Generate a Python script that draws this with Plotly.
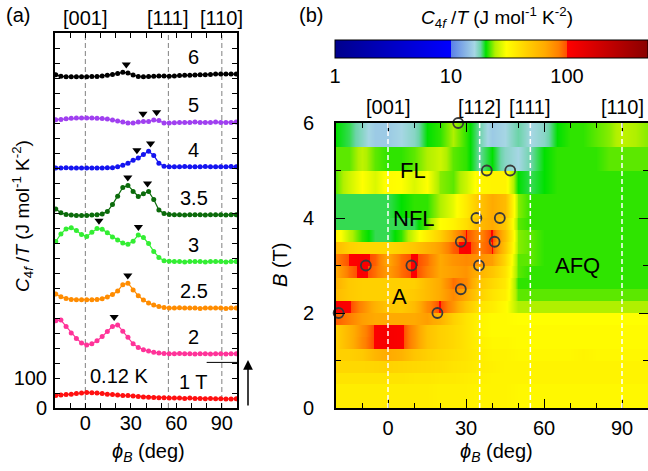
import numpy as np
import plotly.graph_objects as go

W, H = 648, 471
FONT = "Liberation Sans, Arial, sans-serif"

# ---------------- panel (a): C4f/T vs phi_B at several fields ----------------
phi_a = [-19.5, -16.1, -12.7, -9.3, -5.9, -2.5, 0.9, 4.3, 7.7, 11.1, 14.5, 17.9,
         21.3, 24.7, 28.1, 31.5, 34.9, 38.3, 41.7, 45.1, 48.5, 51.9, 55.3, 58.7,
         62.1, 65.5, 68.9, 72.3, 75.7, 79.1, 82.5, 85.9, 89.3, 92.7, 96.1, 99.5]

field_labels = ["1 T", "2", "2.5", "3", "3.5", "4", "5", "6"]
field_B = [1, 2, 2.5, 3, 3.5, 4, 5, 6]
offsets_a = [0, 150, 300, 450, 600, 750, 900, 1050]
colors_a = ["#ff1010", "#ff3399", "#ff8c00", "#33ee33", "#0b6b0b", "#1414f0", "#a040f0", "#000000"]

ct_1T = [42, 43, 45, 46, 48, 50, 52, 51, 50, 48, 46, 45, 43, 42, 42, 40, 38, 37,
         36, 35, 34, 34, 33, 33, 33, 32, 33, 32, 32, 31, 32, 31, 31, 30, 30, 31]
ct_2T = [141, 143, 122, 100, 82, 67, 60, 64, 74, 88, 105, 122, 127, 106, 86, 64, 52, 44,
         40, 36, 33, 32, 31, 31, 32, 31, 31, 30, 31, 31, 30, 31, 31, 30, 31, 31]
ct_25T = [80, 71, 65, 62, 61, 61, 61, 61, 62, 64, 70, 78, 90, 111, 116, 93, 74, 60,
          50, 43, 38, 35, 33, 33, 34, 33, 33, 33, 32, 33, 33, 33, 33, 32, 33, 33]
ct_3T = [105, 130, 147, 151, 142, 128, 122, 136, 148, 146, 134, 120, 110, 100, 96, 106, 127, 118,
         98, 72, 52, 41, 39, 38, 38, 37, 38, 38, 38, 37, 38, 38, 38, 37, 38, 38]
ct_35T = [63, 51, 45, 43, 42, 42, 42, 43, 44, 47, 55, 78, 106, 135, 142, 122, 105, 114,
          122, 95, 60, 48, 45, 44, 44, 43, 44, 44, 44, 43, 44, 44, 44, 43, 44, 44]
ct_4T = [50, 50, 51, 50, 50, 50, 50, 50, 50, 50, 51, 51, 54, 59, 66, 76, 83, 95,
         106, 92, 66, 56, 54, 54, 54, 55, 54, 54, 54, 55, 54, 54, 54, 54, 55, 54]
ct_5T = [61, 62, 64, 66, 67, 67, 67, 67, 66, 65, 63, 60, 57, 53, 50, 50, 53, 55,
         55, 60, 58, 50, 50, 51, 52, 52, 52, 53, 52, 52, 52, 53, 52, 52, 52, 53]
ct_6T = [61, 56, 54, 54, 54, 54, 54, 55, 55, 57, 59, 62, 65, 69, 67, 60, 55, 54,
         55, 56, 57, 57, 56, 57, 58, 59, 59, 60, 61, 61, 62, 63, 63, 63, 63, 63]
curves_a = [ct_1T, ct_2T, ct_25T, ct_3T, ct_35T, ct_4T, ct_5T, ct_6T]

# peak positions (phi, B) ; marked with triangles in (a) when flag is 1
peak_B = [6, 5, 5, 4, 4, 3.5, 3.5, 3, 3, 3, 2.5, 2, 2]
peak_phi = [27, 38, 47, 34, 43, 28, 41, -8.5, 9, 35, 28, -19, 19]
peak_in_a = [1, 1, 1, 1, 1, 1, 1, 0, 1, 1, 1, 0, 1]

# ---------------- panel (b): contour map of C4f/T ----------------
phi_h = [-20, -15, -10, -5, 0, 5, 10, 15, 20, 25, 30, 35, 40, 45, 50, 55, 60, 65, 70, 75, 80, 85, 90, 95, 100]
B_edges = [0, 0.5, 0.75, 1.0, 1.25, 1.5, 1.75, 2.0, 2.25, 2.5, 2.75, 3.0, 3.25, 3.5, 3.75, 4.0, 4.5, 5.0, 5.5, 6.0]
heat_rows = [
    [35, 35, 35, 35, 35, 35, 35, 35, 34, 34, 34, 33, 33, 33, 32, 32, 32, 32, 32, 32, 32, 32, 32, 32, 32],
    [38, 38, 38, 38, 38, 38, 37, 37, 36, 36, 35, 34, 33, 33, 33, 33, 33, 33, 33, 33, 33, 33, 33, 33, 33],
    [42, 42, 42, 43, 44, 43, 42, 41, 40, 38, 37, 35, 34, 33, 33, 33, 33, 33, 33, 33, 33, 33, 33, 33, 33],
    [45, 45, 48, 58, 65, 60, 50, 45, 42, 40, 38, 35, 33, 33, 32, 32, 32, 32, 32, 33, 32, 32, 32, 32, 32],
    [45, 58, 80, 104, 112, 106, 76, 52, 45, 42, 38, 34, 32, 32, 31, 31, 31, 31, 31, 31, 31, 31, 31, 31, 31],
    [45, 58, 78, 104, 112, 106, 76, 52, 45, 42, 38, 33, 31, 31, 31, 31, 31, 31, 31, 31, 31, 31, 31, 31, 31],
    [95, 85, 70, 65, 65, 65, 65, 70, 60, 45, 38, 33, 31, 31, 30, 30, 30, 30, 30, 30, 30, 30, 30, 30, 30],
    [112, 104, 80, 60, 50, 48, 55, 80, 102, 75, 50, 38, 35, 31, 24, 24, 24, 24, 24, 24, 24, 24, 24, 24, 24],
    [55, 48, 45, 45, 45, 45, 48, 55, 65, 80, 65, 45, 38, 34, 22, 22, 22, 22, 22, 22, 22, 22, 22, 22, 22],
    [60, 48, 45, 45, 45, 45, 45, 55, 65, 90, 80, 50, 42, 36, 21, 21, 21, 21, 21, 21, 21, 21, 21, 21, 21],
    [65, 90, 108, 90, 70, 90, 104, 85, 65, 70, 75, 60, 50, 38, 22, 21, 21, 21, 21, 21, 21, 21, 21, 21, 21],
    [85, 100, 108, 95, 65, 90, 104, 90, 65, 75, 80, 75, 70, 42, 22, 22, 21, 21, 21, 21, 21, 21, 21, 21, 21],
    [55, 45, 42, 42, 42, 45, 50, 60, 70, 95, 108, 85, 100, 50, 23, 22, 21, 21, 21, 21, 21, 21, 21, 21, 21],
    [33, 25, 21, 19, 19, 21, 27, 35, 45, 70, 100, 80, 104, 55, 23, 22, 21, 21, 21, 21, 21, 21, 21, 21, 21],
    [19, 19, 19, 19, 19, 19, 19, 22, 30, 33, 40, 55, 65, 48, 22, 21, 21, 21, 21, 21, 21, 21, 21, 21, 21],
    [19, 19, 19, 19, 19, 20, 21, 21, 24, 28, 36, 50, 65, 55, 23, 21, 21, 21, 21, 21, 21, 21, 21, 21, 21],
    [22, 26, 30, 27, 31, 30, 27, 30, 23, 22, 26, 32, 33, 33, 20, 19, 20, 21, 21, 21, 21, 21, 21, 21, 21],
    [22, 22, 25, 22, 21, 21, 22, 24, 26, 22, 21, 18, 20, 17, 16, 18, 20, 21, 21, 21, 21, 22, 22, 22, 22],
    [20, 19, 17, 15, 15, 16, 17, 20, 21, 24, 21, 18, 15, 16, 18, 16, 17, 20, 21, 21, 22, 23, 25, 24, 23],
]

cb_tick_vals = [1, 10, 100]
cb_min, cb_max = 1, 500

dir_a = [("[001]", 0), ("[111]", 54.74), ("[110]", 90)]
dir_b = [("[001]", 0), ("[112]", 35.26), ("[111]", 54.74), ("[110]", 90)]
phase_labels = [("FL", 9.5, 5.0), ("NFL", 10, 4.0), ("A", 4.6, 2.35), ("AFQ", 73, 3.0)]

# ---------------- colour scale (log10 of C/T) ----------------
L = np.log10(cb_max)
def pos(v):
    return float(np.log10(v) / L)
colorscale = [
    [0.0, "#00008c"], [pos(9.99), "#0000ff"], [pos(10), "#5a80e8"], [pos(16), "#a6d6e4"],
    [pos(18), "#6cd4a8"], [pos(20), "#00e000"], [pos(24), "#b0f000"], [pos(30), "#ffff00"],
    [pos(45), "#ffd000"], [pos(65), "#ffaa00"], [pos(85), "#ff8000"], [pos(99.9), "#ff5000"],
    [pos(100), "#ff0000"], [1.0, "#8a0000"],
]

fig = go.Figure()

# ---- panel (a) traces
for lab, off, col, vals in zip(field_labels, offsets_a, colors_a, curves_a):
    fig.add_trace(go.Scatter(
        x=phi_a, y=[v + off for v in vals], mode="lines+markers",
        line=dict(color=col, width=1.2), marker=dict(color=col, size=5),
        xaxis="x", yaxis="y", showlegend=False, hoverinfo="skip"))

tri_x, tri_y = [], []
for b, p, f in zip(peak_B, peak_phi, peak_in_a):
    if not f:
        continue
    k = field_B.index(b)
    vals = curves_a[k]
    near = [v for x, v in zip(phi_a, vals) if abs(x - p) <= 3.5]
    tri_x.append(p)
    tri_y.append(offsets_a[k] + max(near) + 26)
fig.add_trace(go.Scatter(x=tri_x, y=tri_y, mode="markers",
                         marker=dict(symbol="triangle-down", size=8, color="black"),
                         xaxis="x", yaxis="y", showlegend=False, hoverinfo="skip"))

# ---- panel (b) heatmap: each field band is constant in B, smooth along phi
y_rows, z_rows = [], []
for i, row in enumerate(heat_rows):
    lz = [float(np.log10(v)) for v in row]
    y_rows += [B_edges[i] + 0.004, B_edges[i + 1] - 0.004]
    z_rows += [lz, lz]
fig.add_trace(go.Heatmap(x=phi_h, y=y_rows, z=z_rows, zsmooth="best",
                         coloraxis="coloraxis", xaxis="x2", yaxis="y2", hoverinfo="skip"))

fig.add_trace(go.Scatter(x=peak_phi, y=peak_B, mode="markers",
                         marker=dict(symbol="circle-open", size=10, color="#3a3a3a", line=dict(width=1.8)),
                         xaxis="x2", yaxis="y2", showlegend=False, cliponaxis=False, hoverinfo="skip"))

# ---------------- layout ----------------
TF = dict(family=FONT, size=20, color="black")
ax_common = dict(showline=True, linewidth=2, linecolor="black", mirror="allticks",
                 ticks="inside", tickcolor="black", showgrid=False, zeroline=False, tickfont=TF)
xa_dom = [55 / W, 237 / W]
xb_dom = [336 / W, 1.0]
ya_dom = [63 / H, 438 / H]
yb_dom = [63 / H, 348 / H]

cb_x0 = 335 / W
cb_len = (W - 335) / W
cb_top, cb_bot = 40, 58

fig.update_layout(
    width=W, height=H, margin=dict(l=0, r=0, t=0, b=0, autoexpand=False),
    paper_bgcolor="white", plot_bgcolor="white",
    font=dict(family=FONT, size=20, color="black"),
    xaxis=dict(domain=xa_dom, range=[-20, 100], anchor="y", tickvals=[0, 30, 60, 90], ticklen=5,
               ticklabelstandoff=-4,
               minor=dict(dtick=10, tick0=0, ticks="inside", ticklen=5, tickcolor="black"), **ax_common),
    yaxis=dict(domain=ya_dom, range=[0, 1250], anchor="x", tickvals=[0, 100], ticklen=5,
               ticklabelstandoff=2,
               minor=dict(dtick=50, tick0=0, ticks="inside", ticklen=5, tickcolor="black"), **ax_common),
    xaxis2=dict(domain=xb_dom, range=[-20, 100], anchor="y2", tickvals=[0, 30, 60, 90], ticklen=9,
                ticklabelstandoff=1,
                minor=dict(dtick=10, tick0=0, ticks="inside", ticklen=5, tickcolor="black"), **ax_common),
    yaxis2=dict(domain=yb_dom, range=[0, 6], anchor="x2", tickvals=[0, 2, 4, 6], ticklen=9,
                ticklabelstandoff=16,
                minor=dict(dtick=1, tick0=0, ticks="inside", ticklen=5, tickcolor="black"), **ax_common),
    coloraxis=dict(
        colorscale=colorscale, cmin=0, cmax=L,
        colorbar=dict(orientation="h", x=cb_x0, xanchor="left", y=(H - cb_top) / H, yanchor="top",
                      len=cb_len, lenmode="fraction", thickness=cb_bot - cb_top, thicknessmode="pixels",
                      xpad=0, ypad=0, outlinewidth=1, outlinecolor="black",
                      tickvals=[float(np.log10(v)) for v in cb_tick_vals],
                      ticktext=[str(v) for v in cb_tick_vals],
                      ticks="", tickfont=TF),
    ),
)

shapes = []
for _, v in dir_a:
    shapes.append(dict(type="line", xref="x", yref="y domain", x0=v, x1=v, y0=0, y1=1,
                       line=dict(color="#808080", width=1, dash="5px,3px"), layer="below"))
for _, v in dir_b:
    shapes.append(dict(type="line", xref="x2", yref="y2 domain", x0=v, x1=v, y0=0, y1=1,
                       line=dict(color="white", width=1.5, dash="5px,3px"), layer="above"))
shapes.append(dict(type="line", xref="x", yref="y", x0=80, x1=100, y0=152, y1=152,
                   line=dict(color="black", width=1)))
fig.update_layout(shapes=shapes)

ann = []
def text(t, x, y, xref="paper", yref="paper", size=20, angle=0):
    ann.append(dict(text=t, x=x, y=y, xref=xref, yref=yref, showarrow=False, textangle=angle,
                    font=dict(family=FONT, size=size, color="black"), xanchor="center", yanchor="middle"))

text("(a)", 18 / W, 1 - 15 / H)
text("(b)", 311 / W, 1 - 15 / H)
for t, v in dir_a:
    text(t, v, 1 - 18 / H, xref="x")
for t, v in dir_b:
    text(t, v, 1 - 107 / H, xref="x2")
text("<i>C</i><sub>4<i>f</i></sub> /<i>T</i> (J mol<sup>-1</sup> K<sup>-2</sup>)", 497 / W, 1 - 18 / H, size=19)
text("<i>C</i><sub>4<i>f</i></sub> /<i>T</i> (J mol<sup>-1</sup> K<sup>-2</sup>)", 22 / W, 1 - 216 / H, size=19, angle=-90)
text("<i>B</i> (T)", 280 / W, 1 - 265 / H, angle=-90)
text("<i>ϕ</i><sub><i>B</i></sub> (deg)", 148 / W, 1 - 452 / H)
text("<i>ϕ</i><sub><i>B</i></sub> (deg)", 496 / W, 1 - 452 / H)
for lab, off, vals in zip(field_labels, offsets_a, curves_a):
    text(lab, 71.5, off + vals[-1] + 57, xref="x", yref="y")
text("0.12 K", 22.5, 108, xref="x", yref="y")
for t, px, b in phase_labels:
    text(t, px, b, xref="x2", yref="y2", size=22)
ann.append(dict(x=248 / W, y=1 - 360 / H, xref="paper", yref="paper", ax=0, ay=47,
                text="", showarrow=True, arrowhead=2, arrowsize=1.3, arrowwidth=1.5, arrowcolor="black"))
fig.update_layout(annotations=ann)

fig.write_html("out.html")
